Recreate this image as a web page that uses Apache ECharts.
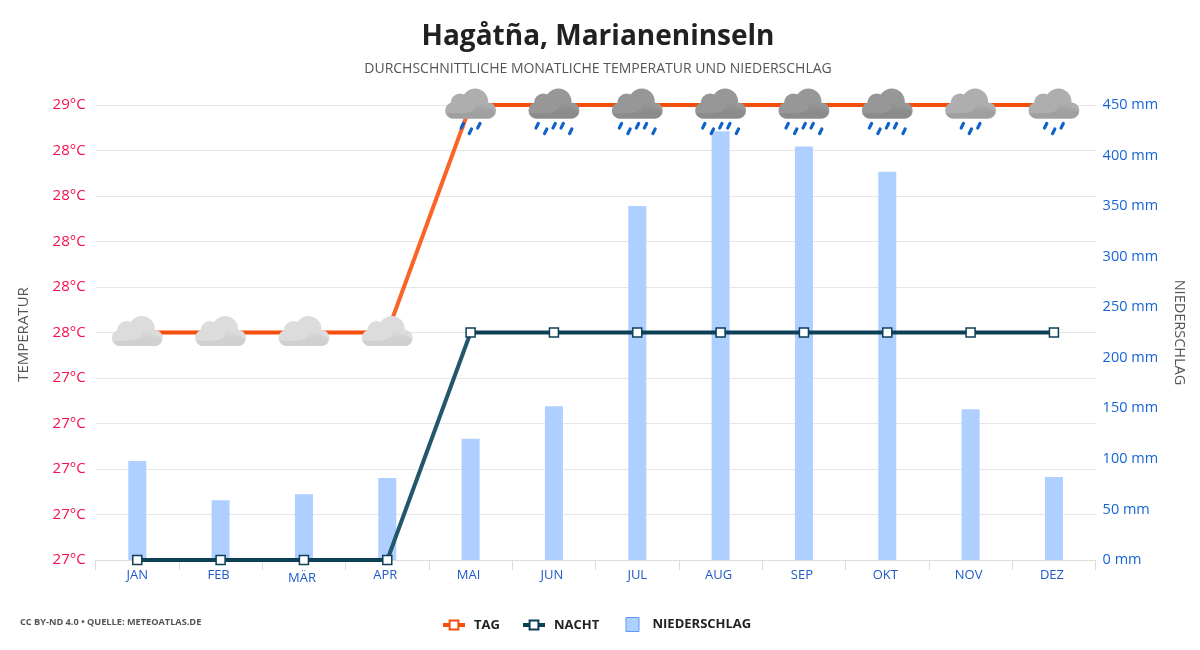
<!DOCTYPE html>
<html><head><meta charset="utf-8">
<style>html,body{margin:0;padding:0;background:#fff}#c{width:1200px;height:650px}</style>
<script src="https://cdn.jsdelivr.net/npm/echarts@6/dist/echarts.min.js"></script>
</head><body><div id="c"></div>
<script>
const months=['JAN','FEB','MÄR','APR','MAI','JUN','JUL','AUG','SEP','OKT','NOV','DEZ'];
const dayTemp=[28,28,28,28,29,29,29,29,29,29,29,29];
const nightTemp=[27,27,27,27,28,28,28,28,28,28,28,28];
const rainfall=[98,59,65,81,120,152,350,424,409,384,149,82];
const cloudTone=['light','light','light','light','mid','dark','dark','dark','dark','dark','mid','mid'];
const drops=[0,0,0,0,3,5,5,5,5,5,3,3];
const tempTicks=['27°C','27°C','27°C','27°C','27°C','28°C','28°C','28°C','28°C','28°C','29°C'];

const circle=(cx,cy,r)=>`M${cx-r} ${cy}A${r} ${r} 0 1 1 ${cx+r} ${cy}A${r} ${r} 0 1 1 ${cx-r} ${cy}Z`;
const cloudPath='path://'+circle(8,22,8)+circle(15,14.5,9.5)+circle(30,13,13)+circle(43,22,8)+'M8 12H43V30H8Z';
const shadePath='path://M1 24.5C10 25 22 25 26 23C30 21 31 17 31 13C36 17 42 18 46 20C49 22 50 23 50 25C48.5 28 46 30 43 30H8C5 30 2.5 28 1 24.5Z';
const drop=(x,y)=>`M${x+.1} ${y+5.65}L${x+2.4} ${y+1.05}A1.6 1.6 0 0 1 ${x+5.4} ${y+2.15}L${x+3.1} ${y+6.75}A1.6 1.6 0 0 1 ${x+.1} ${y+5.65}Z`;
const rain3='path://'+drop(0,0)+drop(8,5.5)+drop(16.5,0);
const rain5='path://'+drop(0,0)+drop(8.5,5.5)+drop(17,0)+drop(25,0)+drop(33.5,5.5);
const tones={light:['#dcdcdc','#d0d0d0'],mid:['#aeaeae','#a0a0a0'],dark:['#979797','#8b8b8b']};
const shadeFill=t=>({type:'linear',x:0,y:0,x2:0,y2:1,colorStops:[{offset:0,color:tones[t][0]},{offset:.65,color:tones[t][1]},{offset:1,color:tones[t][1]}]});
// the rising Apr-May stretch renders lighter than the flat stretches
const lineFill=(base,light)=>({type:'linear',x:0,y:0,x2:1,y2:0,colorStops:[
  {offset:0,color:base},{offset:3/11,color:base},{offset:3/11,color:light},{offset:4/11,color:light},{offset:4/11,color:base},{offset:1,color:base}]});

const chart=echarts.init(document.getElementById('c'),null,{renderer:'canvas'});
const FONT='"Open Sans"';
const legendBase={top:618.5,padding:0,itemWidth:22,itemHeight:11,selectedMode:false,
  textStyle:{fontFamily:FONT,fontSize:13,fontWeight:700,color:'#222',letterSpacing:.95,padding:[0,0,0,4]}};
const labelPadding={JAN:[0,0,0,0],JUL:[0,0,0,0],'MÄR':[3,4,0,0]};
chart.setOption({
  animation:false,
  backgroundColor:'#fff',
  textStyle:{fontFamily:FONT},
  title:[
    {text:'Hagåtña, Marianeninseln',left:598,top:23,padding:0,textAlign:'center',
      textStyle:{fontFamily:FONT,fontSize:28,fontWeight:700,color:'#212121'}},
    {text:'DURCHSCHNITTLICHE MONATLICHE TEMPERATUR UND NIEDERSCHLAG',left:598,top:62,padding:0,textAlign:'center',
      textStyle:{fontFamily:FONT,fontSize:14,fontWeight:400,color:'#555'}},
    {text:'CC BY-ND 4.0 • QUELLE: METEOATLAS.DE',left:20,top:618,padding:0,
      textStyle:{fontFamily:FONT,fontSize:9.2,fontWeight:700,color:'#555'}}
  ],
  legend:[
    {...legendBase,left:441,data:[{name:'TAG',itemStyle:{borderWidth:2},lineStyle:{width:4,color:'#f44e0c'}}]},
    {...legendBase,left:521,data:[{name:'NACHT',itemStyle:{borderWidth:2},lineStyle:{width:4,color:'#0d3f56'}}]},
    {...legendBase,left:625.5,top:617,itemHeight:14,data:[{name:'NIEDERSCHLAG',icon:'path://M0 0H13V14H0Z',itemStyle:{color:'#aecfff',borderColor:'#5b9bf5',borderWidth:1}}]}
  ],
  grid:{left:95.6,right:104.4,top:105,bottom:90},
  xAxis:{
    type:'category',data:months.map(m=>labelPadding[m]?{value:m,textStyle:{padding:labelPadding[m]}}:m),
    boundaryGap:true,
    axisLine:{lineStyle:{color:'#dcdcdc',width:1}},
    axisTick:{show:true,length:10,alignWithLabel:false,lineStyle:{color:'#dcdcdc'}},
    axisLabel:{color:'#1e5bc6',fontSize:13,margin:9,fontFamily:FONT,interval:0,padding:[0,4,0,0]},
    splitLine:{show:false}
  },
  yAxis:[
    {type:'value',min:27,max:29,interval:.2,name:'TEMPERATUR',nameLocation:'middle',nameGap:64,nameRotate:90,
      nameTextStyle:{color:'#555',fontSize:15,fontFamily:FONT,padding:[0,4,0,0]},
      axisLine:{show:false},axisTick:{show:false},
      axisLabel:{color:'#f50f4b',fontSize:15,margin:10,fontFamily:FONT,padding:[3,0,0,0],
        formatter:v=>tempTicks[Math.round((v-27)/.2)]},
      splitLine:{lineStyle:{color:'#e6e6e6',width:1}}},
    {type:'value',min:0,max:450,interval:50,name:'NIEDERSCHLAG',nameLocation:'middle',nameGap:76,nameRotate:-90,
      nameTextStyle:{color:'#555',fontSize:14.5,fontFamily:FONT},
      axisLine:{show:false},axisTick:{show:false},
      axisLabel:{color:'#1565d8',fontSize:14.5,margin:7,fontFamily:FONT,padding:[3,0,0,0],formatter:'{value} mm'},
      splitLine:{show:false}}
  ],
  series:[
    {name:'NIEDERSCHLAG',type:'bar',yAxisIndex:1,data:rainfall,barWidth:18,z:1,
      itemStyle:{color:'#aecfff'}},
    {name:'TAG',type:'line',data:dayTemp,z:3,symbol:'rect',symbolSize:9,showSymbol:true,
      lineStyle:{color:lineFill('#f44e0c','#fa6428'),width:4},
      itemStyle:{color:'#fff',borderColor:'#f44e0c',borderWidth:1.5}},
    {name:'NACHT',type:'line',data:nightTemp,z:4,symbol:'rect',symbolSize:9,
      lineStyle:{color:lineFill('#0d3f56','#24566c'),width:4},
      itemStyle:{color:'#fff',borderColor:'#0d3f56',borderWidth:1.5}},
    {name:'Wolken',type:'scatter',z:6,silent:true,symbol:cloudPath,symbolSize:[51,30],symbolOffset:[0,-1.5],
      data:dayTemp.map((v,i)=>({value:v,itemStyle:{color:tones[cloudTone[i]][0],opacity:1}}))},
    {name:'Wolkenschatten',type:'scatter',z:7,silent:true,symbol:shadePath,symbolSize:[49,17],symbolOffset:[0,5],
      data:dayTemp.map((v,i)=>({value:v,itemStyle:{color:shadeFill(cloudTone[i]),opacity:1}}))},
    {name:'Regen',type:'scatter',z:8,silent:true,symbolOffset:[0,23.5],
      data:dayTemp.map((v,i)=>({value:v,symbol:drops[i]===5?rain5:rain3,symbolSize:drops[i]===5?[39,13.4]:[22,13.4],
        itemStyle:{color:'#0e62c9',opacity:drops[i]?1:0}}))}
  ]
});
</script></body></html>
